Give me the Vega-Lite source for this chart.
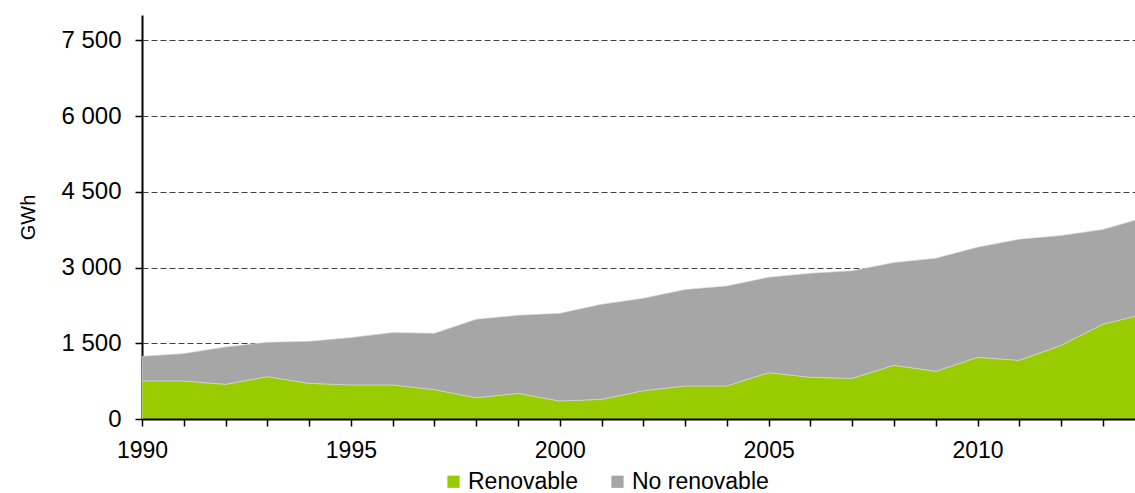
{
  "$schema": "https://vega.github.io/schema/vega-lite/v6.json",
  "width": 993,
  "height": 404,
  "autosize": "none",
  "padding": {"left": 142, "top": 15, "right": 0, "bottom": 74},
  "background": "white",
  "config": {
    "view": {"stroke": null},
    "font": "Liberation Sans"
  },
  "data": {
    "values": [
      {"year": 1990, "serie": "Renovable", "gwh": 753}, {"year": 1990, "serie": "No renovable", "gwh": 488},
      {"year": 1991, "serie": "Renovable", "gwh": 753}, {"year": 1991, "serie": "No renovable", "gwh": 542},
      {"year": 1992, "serie": "Renovable", "gwh": 686}, {"year": 1992, "serie": "No renovable", "gwh": 741},
      {"year": 1993, "serie": "Renovable", "gwh": 839}, {"year": 1993, "serie": "No renovable", "gwh": 680},
      {"year": 1994, "serie": "Renovable", "gwh": 706}, {"year": 1994, "serie": "No renovable", "gwh": 832},
      {"year": 1995, "serie": "Renovable", "gwh": 674}, {"year": 1995, "serie": "No renovable", "gwh": 938},
      {"year": 1996, "serie": "Renovable", "gwh": 674}, {"year": 1996, "serie": "No renovable", "gwh": 1037},
      {"year": 1997, "serie": "Renovable", "gwh": 581}, {"year": 1997, "serie": "No renovable", "gwh": 1116},
      {"year": 1998, "serie": "Renovable", "gwh": 422}, {"year": 1998, "serie": "No renovable", "gwh": 1553},
      {"year": 1999, "serie": "Renovable", "gwh": 508}, {"year": 1999, "serie": "No renovable", "gwh": 1546},
      {"year": 2000, "serie": "Renovable", "gwh": 357}, {"year": 2000, "serie": "No renovable", "gwh": 1736},
      {"year": 2001, "serie": "Renovable", "gwh": 389}, {"year": 2001, "serie": "No renovable", "gwh": 1883},
      {"year": 2002, "serie": "Renovable", "gwh": 561}, {"year": 2002, "serie": "No renovable", "gwh": 1830},
      {"year": 2003, "serie": "Renovable", "gwh": 654}, {"year": 2003, "serie": "No renovable", "gwh": 1909},
      {"year": 2004, "serie": "Renovable", "gwh": 654}, {"year": 2004, "serie": "No renovable", "gwh": 1982},
      {"year": 2005, "serie": "Renovable", "gwh": 918}, {"year": 2005, "serie": "No renovable", "gwh": 1889},
      {"year": 2006, "serie": "Renovable", "gwh": 825}, {"year": 2006, "serie": "No renovable", "gwh": 2061},
      {"year": 2007, "serie": "Renovable", "gwh": 805}, {"year": 2007, "serie": "No renovable", "gwh": 2129},
      {"year": 2008, "serie": "Renovable", "gwh": 1063}, {"year": 2008, "serie": "No renovable", "gwh": 2035},
      {"year": 2009, "serie": "Renovable", "gwh": 944}, {"year": 2009, "serie": "No renovable", "gwh": 2240},
      {"year": 2010, "serie": "Renovable", "gwh": 1221}, {"year": 2010, "serie": "No renovable", "gwh": 2181},
      {"year": 2011, "serie": "Renovable", "gwh": 1162}, {"year": 2011, "serie": "No renovable", "gwh": 2399},
      {"year": 2012, "serie": "Renovable", "gwh": 1459}, {"year": 2012, "serie": "No renovable", "gwh": 2175},
      {"year": 2013, "serie": "Renovable", "gwh": 1876}, {"year": 2013, "serie": "No renovable", "gwh": 1877},
      {"year": 2014, "serie": "Renovable", "gwh": 2081}, {"year": 2014, "serie": "No renovable", "gwh": 1911}
    ]
  },
  "mark": {"type": "area", "clip": true, "stroke": "#d9d9d9", "strokeWidth": 0.6},
  "encoding": {
    "x": {
      "field": "year",
      "type": "quantitative",
      "scale": {"domain": [1990, 2013.77], "nice": false, "zero": false},
      "axis": {
        "title": null,
        "values": [1990, 1991, 1992, 1993, 1994, 1995, 1996, 1997, 1998, 1999, 2000, 2001, 2002, 2003, 2004, 2005, 2006, 2007, 2008, 2009, 2010, 2011, 2012, 2013],
        "labelExpr": "datum.value % 5 === 0 ? datum.value : ''",
        "grid": false,
        "domainColor": "#000000",
        "domainWidth": 2,
        "tickColor": "#000000",
        "tickWidth": 1.5,
        "tickSize": 7,
        "labelFontSize": 23,
        "labelColor": "#000000",
        "labelPadding": 13,
        "labelFlush": false,
        "labelOverlap": false,
        "zindex": 1
      }
    },
    "y": {
      "field": "gwh",
      "type": "quantitative",
      "stack": "zero",
      "scale": {"domain": [0, 8000], "nice": false},
      "axis": {
        "title": "GWh",
        "titleFontSize": 20,
        "titleFontWeight": "normal",
        "titleColor": "#000000",
        "titlePadding": 22,
        "values": [0, 1500, 3000, 4500, 6000, 7500],
        "labelExpr": "replace(format(datum.value, ',d'), ',', ' ')",
        "grid": true,
        "gridColor": "#444444",
        "gridDash": [6, 3],
        "gridWidth": 1,
        "domainColor": "#000000",
        "domainWidth": 2,
        "tickColor": "#000000",
        "tickWidth": 1.5,
        "tickSize": 7,
        "labelFontSize": 24,
        "labelColor": "#000000",
        "labelPadding": 14
      }
    },
    "color": {
      "field": "serie",
      "type": "nominal",
      "scale": {"domain": ["Renovable", "No renovable"], "range": ["#99cc00", "#a6a6a6"]},
      "legend": {
        "title": null,
        "orient": "none",
        "direction": "horizontal",
        "legendX": 300,
        "legendY": 455,
        "symbolType": "square",
        "symbolSize": 150,
        "symbolStrokeWidth": 0,
        "labelFontSize": 23,
        "labelColor": "#000000",
        "labelOffset": 3,
        "columnPadding": 28
      }
    },
    "order": {"field": "serie", "sort": "descending"}
  }
}
